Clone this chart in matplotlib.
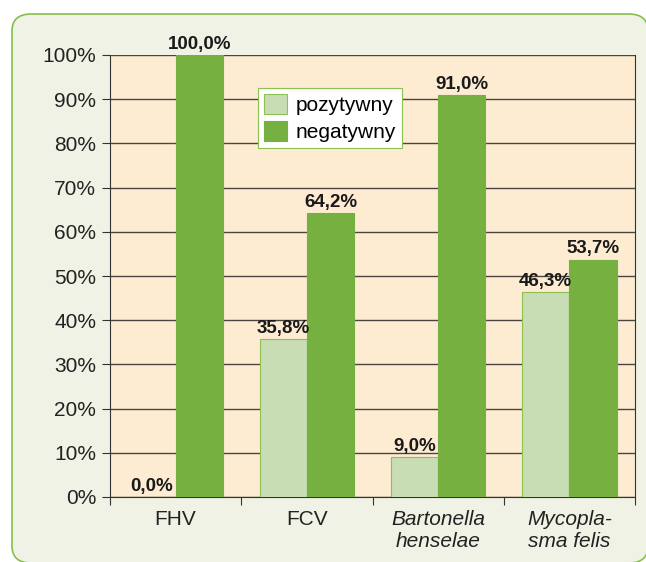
import matplotlib
matplotlib.use("Agg")
import matplotlib.pyplot as plt
from matplotlib.patches import FancyBboxPatch
import numpy as np

categories = ["FHV", "FCV", "Bartonella\nhenselae", "Mycopla-\nsma felis"]
italic = [False, False, True, True]
pozytywny = [0.0, 35.8, 9.0, 46.3]
negatywny = [100.0, 64.2, 91.0, 53.7]
series_names = ["pozytywny", "negatywny"]
yticks = [0, 10, 20, 30, 40, 50, 60, 70, 80, 90, 100]

fam = ["Liberation Sans Narrow", "Liberation Sans", "DejaVu Sans"]
plt.rcParams['font.family'] = fam

fig = plt.figure(figsize=(6.46, 5.62), dpi=100)
fig.patch.set_facecolor("white")
bg = FancyBboxPatch((12/646, -1/562), (636)/646, 1 - 14/562 + 1/562,
                    boxstyle="round,pad=0,rounding_size=0.03",
                    transform=fig.transFigure, facecolor="#eff2e4",
                    edgecolor="#86bf4e", linewidth=1.2, zorder=-10)
fig.patches.append(bg)

ax = fig.add_axes([110/646, 1 - 497/562, 525/646, 442/562])
ax.set_zorder(5)
ax.set_facecolor("#fdecd2")
x = np.arange(len(categories))
w = 0.36
b1 = ax.bar(x - w/2, pozytywny, w, color="#c9ddb5", edgecolor="#8cc152", linewidth=0.8, label=series_names[0], zorder=3)
b2 = ax.bar(x + w/2, negatywny, w, color="#76b041", edgecolor="#76b041", linewidth=0.8, label=series_names[1], zorder=3)

for bars, vals in ((b1, pozytywny), (b2, negatywny)):
    for r, v in zip(bars, vals):
        ax.text(r.get_x() + r.get_width()/2, v + 0.5, f"{v:.1f}%".replace(".", ","),
                ha="center", va="bottom", fontsize=13.5, fontweight="bold", color="#1a1a1a", zorder=4)

ax.set_xlim(-0.5, len(categories) - 0.5)
ax.set_ylim(0, 100)
ax.set_yticks(yticks)
ax.set_yticklabels([f"{t}%" for t in yticks], fontsize=15, color="#222222")
ax.yaxis.grid(True, color="#4a4540", linewidth=1.0, zorder=1)
ax.set_axisbelow(True)

ax.set_xticks(np.arange(-0.5, len(categories), 1.0))
ax.set_xticklabels([])
ax.tick_params(axis="x", length=6, color="#333333", direction="out")
ax.tick_params(axis="y", length=6, color="#333333", direction="out", pad=4)
for xi, (c, it) in enumerate(zip(categories, italic)):
    ax.text(xi, -3.0, c, ha="center", va="top", fontsize=15, color="#222222",
            style="italic" if it else "normal", linespacing=1.15,
            transform=ax.transData)

ax.spines["top"].set_visible(False)
for s in ["left", "bottom", "right"]:
    ax.spines[s].set_color("#333333")

leg = ax.legend(loc="upper left", bbox_to_anchor=(0.282, 0.925), fontsize=15,
                frameon=True, fancybox=False, edgecolor="#8cc152", facecolor="white",
                framealpha=1, handlelength=1.1, handleheight=1.1, borderpad=0.3,
                labelspacing=0.25, handletextpad=0.4, borderaxespad=0)
leg.get_frame().set_linewidth(0.8)

fig.savefig("out.png", dpi=100)
